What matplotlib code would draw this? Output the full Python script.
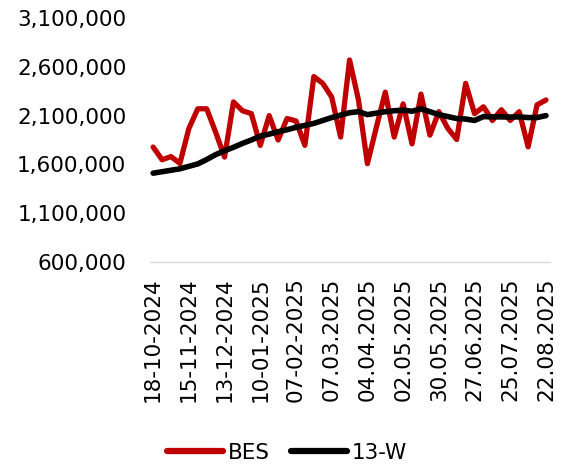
import matplotlib
matplotlib.use('Agg')
import matplotlib.pyplot as plt
from matplotlib.ticker import FuncFormatter

# weekly values, 18-10-2024 .. 22-08-2025
bes = [1778000, 1648000, 1680000, 1610000, 1967000, 2170000, 2170000, 1930000,
       1675000, 2240000, 2150000, 2120000, 1795000, 2100000, 1850000, 2070000,
       2045000, 1795000, 2500000, 2430000, 2290000, 1880000, 2670000, 2260000,
       1607000, 1980000, 2340000, 1880000, 2220000, 1810000, 2320000, 1900000,
       2140000, 1970000, 1855000, 2430000, 2120000, 2190000, 2050000, 2160000,
       2050000, 2140000, 1780000, 2210000, 2260000]

w13 = [1510000, 1525000, 1540000, 1555000, 1580000, 1605000, 1650000, 1700000,
       1740000, 1775000, 1815000, 1850000, 1890000, 1910000, 1935000, 1955000,
       1980000, 2000000, 2020000, 2050000, 2080000, 2105000, 2130000, 2140000,
       2110000, 2125000, 2140000, 2150000, 2155000, 2145000, 2170000, 2140000,
       2110000, 2090000, 2070000, 2065000, 2050000, 2090000, 2087000, 2087000,
       2085000, 2087000, 2080000, 2080000, 2100000]

tickLabels = ['18-10-2024', '15-11-2024', '13-12-2024', '10-01-2025', '07-02-2025',
              '07.03.2025', '04.04.2025', '02.05.2025', '30.05.2025', '27.06.2025',
              '25.07.2025', '22.08.2025']

yTicks = [600000, 1100000, 1600000, 2100000, 2600000, 3100000]

plt.rcParams['font.family'] = ['DejaVu Sans']

fig = plt.figure(figsize=(5.74, 4.65), dpi=100)
ax = fig.add_axes([150 / 574, 1 - 262 / 465, 400 / 574, 244 / 465])

x = list(range(len(bes)))
ax.plot(x, bes, color='#C00000', linewidth=3.8, label='BES',
        solid_joinstyle='round', solid_capstyle='round')
ax.plot(x, w13, color='#000000', linewidth=4.0, label='13-W',
        solid_joinstyle='round', solid_capstyle='round')

ax.set_xlim(-0.35, len(bes) - 1 + 0.45)
ax.set_ylim(600000, 3100000)
ax.set_yticks(yTicks)
ax.yaxis.set_major_formatter(FuncFormatter(lambda v, p: '{:,.0f}'.format(v)))
ax.set_xticks(range(0, len(bes), 4))
ax.set_xticklabels(tickLabels, rotation=90, ha='center', va='top')

for side in ['top', 'right', 'left']:
  ax.spines[side].set_visible(False)
ax.spines['bottom'].set_color('#D9D9D9')
ax.spines['bottom'].set_linewidth(1.0)

ax.tick_params(axis='both', length=0, labelsize=15.5, colors='#000000')
ax.tick_params(axis='x', pad=11)
ax.tick_params(axis='y', pad=17)

leg = fig.legend(loc='center', bbox_to_anchor=(287 / 574, 1 - 453 / 465), ncol=2,
                 frameon=False, fontsize=15.5, handlelength=2.6, handletextpad=0.2,
                 columnspacing=1.0)
for line in leg.get_lines():
  line.set_linewidth(4.5)
  line.set_solid_capstyle('round')

fig.savefig('out.png', dpi=100)
